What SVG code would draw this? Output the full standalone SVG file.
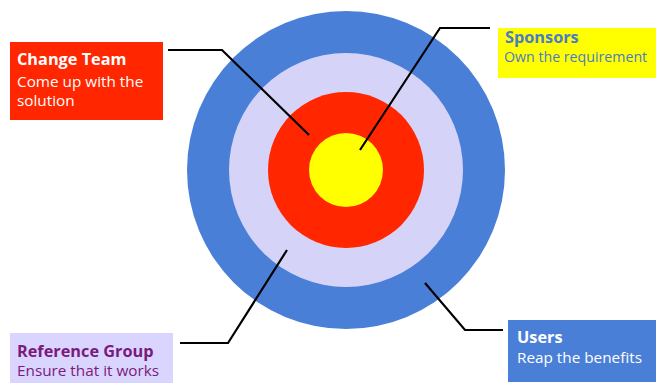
<svg xmlns="http://www.w3.org/2000/svg" width="656" height="383" viewBox="0 0 656 383">
<style>
.t{font-family:"Open Sans","Liberation Sans",sans-serif;font-size:15.3px}
.b{font-weight:bold;font-size:16.3px}
.ln{fill:none;stroke:#000;stroke-width:2.2}
</style>
<rect width="656" height="383" fill="#fff"/>
<g id="target">
<circle cx="346" cy="170" r="159" fill="#4A7FD8"/>
<circle cx="346" cy="170" r="117" fill="#D5D4F8"/>
<circle cx="346" cy="170" r="78" fill="#FF2600"/>
<circle cx="346" cy="170" r="37" fill="#FFFF00"/>
</g>
<g id="connectors">
<polyline class="ln" points="168,50 222,50 309,135"/>
<polyline class="ln" points="360,150 440,28 490,28"/>
<polyline class="ln" points="287,250 228,343 180,343"/>
<polyline class="ln" points="425,283 465,330 503,330"/>
</g>
<g id="change-team">
<rect x="10" y="42" width="153" height="78" fill="#FF2600"/>
<text class="t b" x="17" y="65" fill="#fff">Change Team</text>
<text class="t" x="17" y="87" fill="#fff">Come up with the</text>
<text class="t" x="17" y="106" fill="#fff">solution</text>
</g>
<g id="sponsors">
<rect x="498" y="28" width="158" height="50" fill="#FFFF00"/>
<text class="t b" x="505" y="43" fill="#4A7CC9">Sponsors</text>
<text class="t" x="504" y="62" fill="#4A7CC9" style="font-size:14.2px">Own the requirement</text>
</g>
<g id="reference-group">
<rect x="10" y="333" width="163" height="50" fill="#D9D5FF"/>
<text class="t b" x="17" y="357" fill="#7A1A7A">Reference Group</text>
<text class="t" x="17" y="376" fill="#7A1A7A">Ensure that it works</text>
</g>
<g id="users">
<rect x="508" y="320" width="148" height="62" fill="#4A7FD8"/>
<text class="t b" x="517" y="343" fill="#fff">Users</text>
<text class="t" x="517" y="363" fill="#fff">Reap the benefits</text>
</g>
</svg>
